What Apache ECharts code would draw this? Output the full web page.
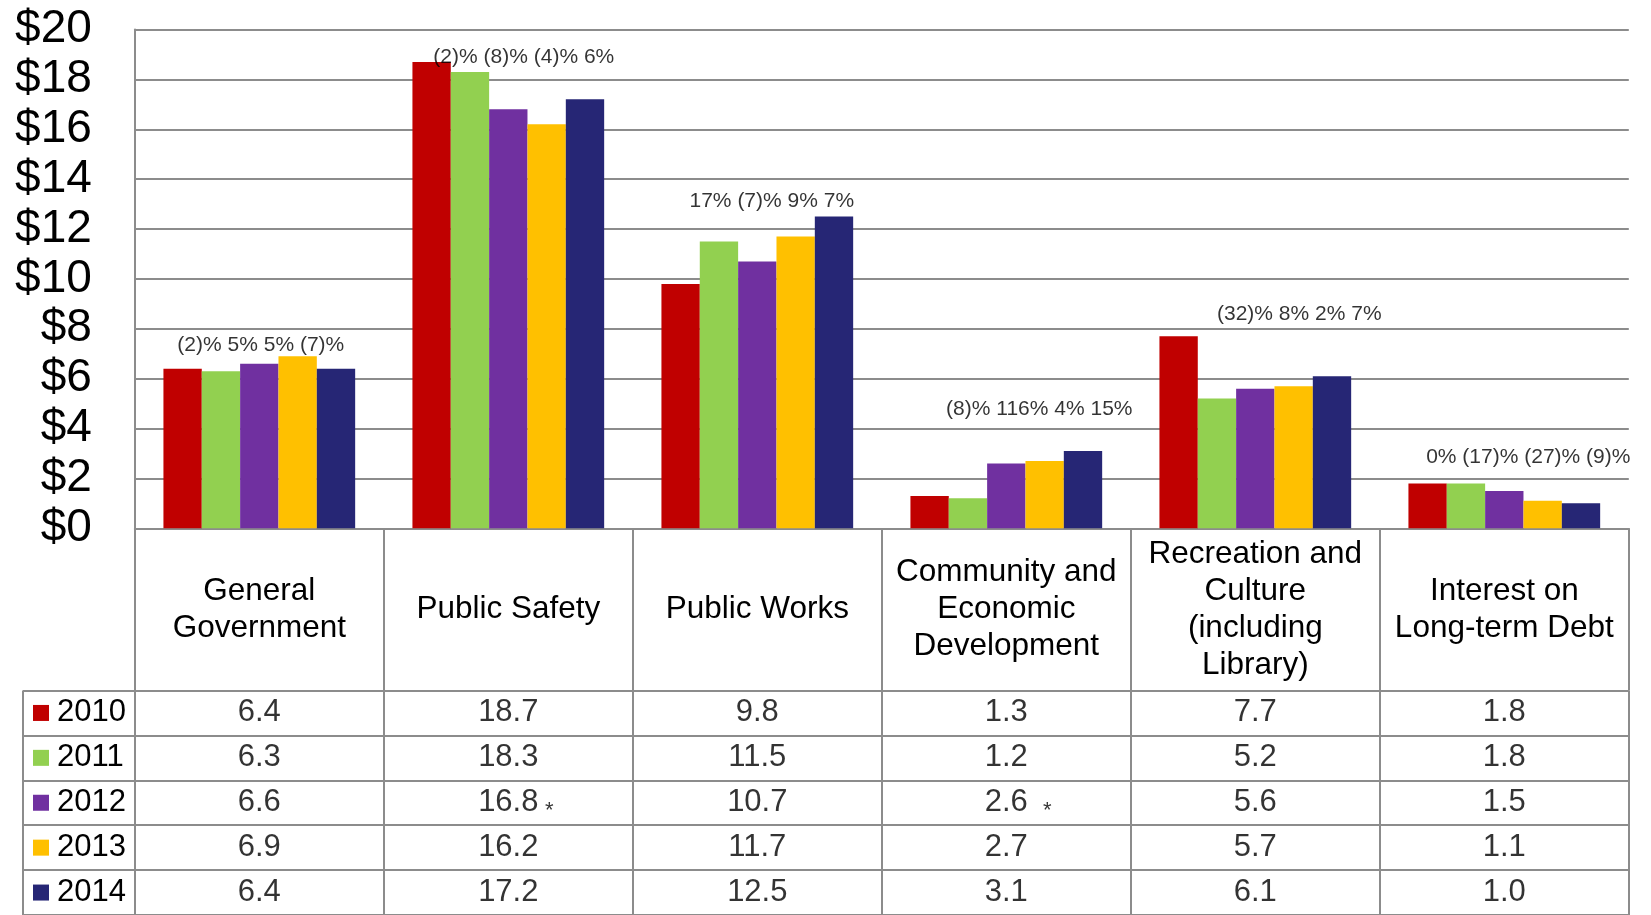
<!DOCTYPE html>
<html>
<head>
<meta charset="utf-8">
<title>Expenditures by function</title>
<script src="https://cdn.jsdelivr.net/npm/echarts@6/dist/echarts.min.js"></script>
<style>
html, body { margin: 0; padding: 0; background: #fff; }
#chart { width: 1651px; height: 915px; }
</style>
</head>
<body>
<div id="chart"></div>
<script>
// values in $ millions, one array per year
var categories = ['General\nGovernment', 'Public Safety', 'Public Works', 'Community and\nEconomic\nDevelopment', 'Recreation and\nCulture\n(including\nLibrary)', 'Interest on\nLong-term Debt'];
var years = ['2010', '2011', '2012', '2013', '2014'];
var v2010 = [6.4, 18.7, 9.8, 1.3, 7.7, 1.8];
var v2011 = [6.3, 18.3, 11.5, 1.2, 5.2, 1.8];
var v2012 = [6.6, 16.8, 10.7, 2.6, 5.6, 1.5];
var v2013 = [6.9, 16.2, 11.7, 2.7, 5.7, 1.1];
var v2014 = [6.4, 17.2, 12.5, 3.1, 6.1, 1.0];
var changeNotes = ['(2)% 5% 5% (7)%', '(2)% (8)% (4)% 6%', '17% (7)% 9% 7%', '(8)% 116% 4% 15%', '(32)% 8% 2% 7%', '0% (17)% (27)% (9)%'];
var starred = [[1, 2], [3, 2]]; // [category, year] cells with a *
var yMax = 20, yStep = 2;

var yearValues = [v2010, v2011, v2012, v2013, v2014];
var colors = ['#c00000', '#92d050', '#7030a0', '#ffc000', '#262675'];
var lineGray = '#8c8c8c';

// layout
var L = 134.8, W = 1494;
var plotTop = 29.5, plotH = 498.8;
var headH = 162.2;
var rowTop = plotTop + plotH + headH, rowH = 45.6;
// where the change notes sit (value units) and their sideways nudge (px)
var noteLevel = [7.35, 18.9, 13.12, 4.78, 8.59, 2.84];
var noteShift = [1.5, 15.5, 14.5, 33, 44, 24];

var mychart = echarts.init(document.getElementById('chart'));

var series = [];
yearValues.forEach(function (vals, i) {
  series.push({
    name: years[i], type: 'bar', xAxisIndex: 0, yAxisIndex: 0,
    data: vals, barGap: 0, barCategoryGap: '23%',
    itemStyle: { color: colors[i] }, silent: true
  });
});
series.push({
  type: 'scatter', xAxisIndex: 0, yAxisIndex: 0, symbolSize: 0, silent: true,
  data: categories.map(function (c, i) {
    return { value: [i, noteLevel[i]], label: { offset: [noteShift[i], 0] } };
  }),
  label: {
    show: true, position: 'inside', fontSize: 21, color: '#000', textBorderWidth: 0,
    formatter: function (p) { return changeNotes[p.dataIndex]; }
  }
});
var cells = [];
yearValues.forEach(function (vals, r) {
  vals.forEach(function (v, c) { cells.push([c, r, v]); });
});
series.push({
  type: 'scatter', xAxisIndex: 1, yAxisIndex: 1, symbolSize: 0, silent: true,
  data: cells,
  label: {
    show: true, position: 'inside', fontSize: 31, color: '#000', textBorderWidth: 0,
    padding: [2, 0, 0, 0],
    formatter: function (p) { return p.value[2].toFixed(1); }
  }
});
series.push({
  type: 'scatter', xAxisIndex: 1, yAxisIndex: 1, symbolSize: 0, silent: true,
  data: starred,
  label: { show: true, position: 'inside', offset: [41, 8], fontSize: 22, color: '#000', textBorderWidth: 0, formatter: '*' }
});

var rich = { t: { fontSize: 31, color: '#000', padding: [0, 0, 0, 8] } };
colors.forEach(function (c, i) {
  rich['q' + i] = { width: 16, height: 16, backgroundColor: c };
});

var option = {
  animation: false,
  backgroundColor: '#fff',
  textStyle: { fontFamily: 'Liberation Sans, Arial, sans-serif' },
  grid: [
    { left: L, top: plotTop, width: W, height: plotH },
    { left: L, top: rowTop, width: W, height: rowH * 5 },
    { left: 23, top: rowTop, width: L - 23, height: rowH * 5 }
  ],
  xAxis: [
    {
      gridIndex: 0, type: 'category', data: categories,
      axisLine: { lineStyle: { color: lineGray, width: 2 } },
      axisTick: { show: true, interval: 0, length: headH, lineStyle: { color: lineGray, width: 2 } },
      axisLabel: {
        interval: 0, margin: headH / 2, verticalAlign: 'middle',
        fontSize: 31.5, lineHeight: 37, color: '#000'
      }
    },
    {
      gridIndex: 1, type: 'category', data: categories,
      axisLine: { show: false }, axisTick: { show: false }, axisLabel: { show: false },
      splitLine: { show: true, interval: 0, lineStyle: { color: lineGray, width: 2 } }
    },
    {
      gridIndex: 2, type: 'category', data: [''],
      axisLine: { show: false }, axisTick: { show: false }, axisLabel: { show: false },
      splitLine: { show: true, interval: 0, lineStyle: { color: lineGray, width: 2 } }
    }
  ],
  yAxis: [
    {
      gridIndex: 0, type: 'value', min: 0, max: yMax, interval: yStep,
      axisLine: { show: true, lineStyle: { color: lineGray, width: 2 } },
      axisTick: { show: false },
      axisLabel: {
        fontSize: 46, color: '#000', margin: 43,
        formatter: function (v) { return '$' + v; }
      },
      splitLine: { lineStyle: { color: lineGray, width: 2 } }
    },
    {
      gridIndex: 1, type: 'category', data: years, inverse: true,
      axisLine: { show: false }, axisTick: { show: false }, axisLabel: { show: false },
      splitLine: { show: true, interval: 0, lineStyle: { color: lineGray, width: 2 } }
    },
    {
      gridIndex: 2, type: 'category', data: years, inverse: true,
      axisLine: { show: false }, axisTick: { show: false },
      axisLabel: {
        inside: true, margin: 10, interval: 0, rich: rich,
        formatter: function (v, i) { return '{q' + i + '|}{t|' + v + '}'; }
      },
      splitLine: { show: true, interval: 0, lineStyle: { color: lineGray, width: 2 } }
    }
  ],
  series: series
};

mychart.setOption(option);
</script>
</body>
</html>
